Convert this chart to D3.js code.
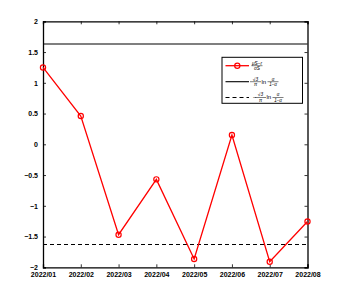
<!DOCTYPE html>
<html>
<head>
<meta charset="utf-8">
<script src="https://cdn.jsdelivr.net/npm/d3@7"></script>
<style>
  body { margin: 0; background: #fff; }
  text { font-family: "Liberation Sans", Arial, sans-serif; }
</style>
</head>
<body>
<svg width="347" height="292"></svg>
<script>
// data
var months = ['2022/01', '2022/02', '2022/03', '2022/04', '2022/05', '2022/06', '2022/07', '2022/08'];
var ratio  = [1.25, 0.46, -1.47, -0.57, -1.865, 0.15, -1.91, -1.255];
var bound  = 1.63;   // sqrt(3)/pi * ln(a/(1-a))
var yTicks = [-2, -1.5, -1, -0.5, 0, 0.5, 1, 1.5, 2];

var svg = d3.select('svg');
// plot box (note: "top" would clash with window.top)
var pLeft = 43, pRight = 307.5, pTop = 21.3, pBottom = 267.3;

var x = d3.scalePoint().domain(months).range([pLeft, pRight]);
var y = d3.scaleLinear().domain([-2, 2]).range([pBottom, pTop]);

var fmt = function (d) { return (d < 0 ? '\u2212' : '') + Math.abs(d); };

// axes, ticks pointing inward like matlab
var gl = svg.append('g').attr('transform', 'translate(' + pLeft + ',0)')
  .call(d3.axisLeft(y).tickValues(yTicks).tickSize(-3).tickPadding(5).tickFormat(fmt));
var gr = svg.append('g').attr('transform', 'translate(' + pRight + ',0)')
  .call(d3.axisRight(y).tickValues(yTicks).tickSize(-3).tickFormat(''));
var gb = svg.append('g').attr('transform', 'translate(0,' + pBottom + ')')
  .call(d3.axisBottom(x).tickSize(-3).tickPadding(5));
var gt = svg.append('g').attr('transform', 'translate(0,' + pTop + ')')
  .call(d3.axisTop(x).tickSize(-3).tickFormat(''));

[gl, gr, gb, gt].forEach(function (g) {
  g.select('.domain').attr('stroke', '#000').attr('stroke-width', 1.3);
  g.selectAll('.tick line').attr('stroke', '#000').attr('stroke-width', 0.8);
  g.selectAll('text').attr('font-size', 7).attr('fill', '#000')
    .attr('font-family', '"Liberation Sans", Arial, sans-serif').attr('font-weight', 'bold');
});
gb.selectAll('text').attr('dy', '0.71em');

// threshold lines
svg.append('line')
  .attr('x1', pLeft).attr('x2', pRight).attr('y1', y(bound)).attr('y2', y(bound))
  .attr('stroke', '#000').attr('stroke-width', 1.1);
svg.append('line')
  .attr('x1', pLeft).attr('x2', pRight).attr('y1', y(-bound)).attr('y2', y(-bound))
  .attr('stroke', '#000').attr('stroke-width', 1.1).attr('stroke-dasharray', '4,3');

// red series
var line = d3.line()
  .x(function (d, i) { return x(months[i]); })
  .y(function (d) { return y(d); });
svg.append('path').datum(ratio)
  .attr('d', line).attr('fill', 'none').attr('stroke', '#ff0000').attr('stroke-width', 1.3);
svg.selectAll('circle.pt').data(ratio).enter().append('circle')
  .attr('class', 'pt')
  .attr('cx', function (d, i) { return x(months[i]); })
  .attr('cy', function (d) { return y(d); })
  .attr('r', 2.6).attr('fill', 'none').attr('stroke', '#ff0000').attr('stroke-width', 1.2);

// legend
var lg = svg.append('g');
lg.append('rect').attr('x', 222).attr('y', 57.3).attr('width', 80.5).attr('height', 46)
  .attr('fill', '#fff').attr('stroke', '#000').attr('stroke-width', 1);

var rows = [65.7, 81.7, 97.5];
lg.append('line').attr('x1', 225.5).attr('x2', 249).attr('y1', rows[0]).attr('y2', rows[0])
  .attr('stroke', '#ff0000').attr('stroke-width', 1.3);
lg.append('circle').attr('cx', 237.3).attr('cy', rows[0]).attr('r', 2.6)
  .attr('fill', 'none').attr('stroke', '#ff0000').attr('stroke-width', 1.2);
lg.append('line').attr('x1', 225.5).attr('x2', 249).attr('y1', rows[1]).attr('y2', rows[1])
  .attr('stroke', '#000').attr('stroke-width', 1.1);
lg.append('line').attr('x1', 225.5).attr('x2', 249).attr('y1', rows[2]).attr('y2', rows[2])
  .attr('stroke', '#000').attr('stroke-width', 1.1).attr('stroke-dasharray', '4,3');

var serif = '"Liberation Serif", "DejaVu Serif", serif';
function frac(g, cx, cy, num, den, size) {
  g.append('text').attr('x', cx).attr('y', cy - 1.2).attr('text-anchor', 'middle')
    .attr('font-size', size).attr('font-family', serif).attr('font-style', 'italic').text(num);
  g.append('line').attr('x1', cx - 5.5).attr('x2', cx + 5.5).attr('y1', cy).attr('y2', cy)
    .attr('stroke', '#000').attr('stroke-width', 0.5);
  g.append('text').attr('x', cx).attr('y', cy + 4.3).attr('text-anchor', 'middle')
    .attr('font-size', size).attr('font-family', serif).attr('font-style', 'italic').text(den);
}
function boundLabel(g, x0, cy, neg) {
  if (neg) {
    g.append('text').attr('x', x0 - 5).attr('y', cy + 1.8).attr('font-size', 6)
      .attr('font-family', serif).text('\u2212');
  }
  frac(g, x0 + 2.5, cy, '\u221A3', '\u03C0', 4.8);
  g.append('text').attr('x', x0 + 8.5).attr('y', cy + 1.8).attr('font-size', 6)
    .attr('font-family', serif).text('ln');
  frac(g, x0 + 20, cy, '\u03B1', '1\u2212\u03B1', 4.5);
}
frac(lg, 257, rows[0], '\u03BCS\u2212r', '\u03C3S', 4.8);
boundLabel(lg, 253, rows[1], false);
boundLabel(lg, 258, rows[2], true);
</script>
</body>
</html>
